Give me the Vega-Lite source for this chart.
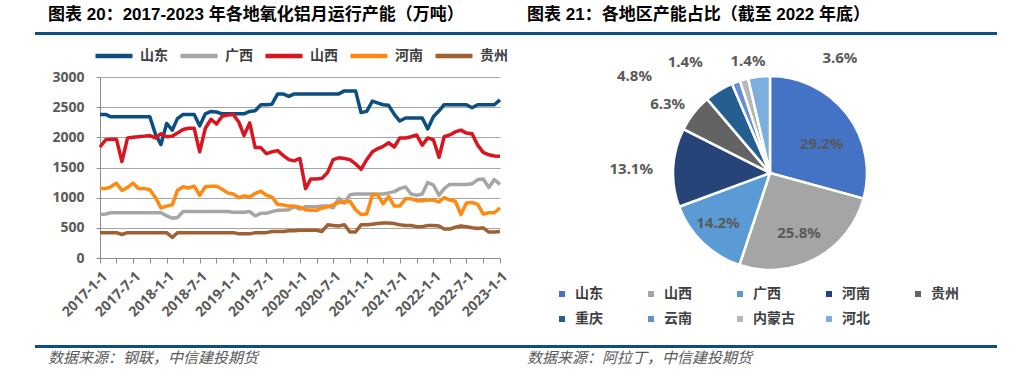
{
  "$schema": "https://vega.github.io/schema/vega-lite/v6.json",
  "background": "white",
  "padding": {"left": 35, "top": 6, "right": 0, "bottom": 0},
  "autosize": {"type": "pad"},
  "config": {
    "view": {"stroke": null},
    "title": {"font": "'Liberation Sans', 'Noto Sans CJK SC'"}
  },
  "columns": 2,
  "align": "each",
  "spacing": {"row": 0, "column": 0},
  "resolve": {"scale": {"color": "independent"}, "legend": {"color": "independent"}},
  "concat": [
    {
      "width": 485,
      "height": 3,
      "title": {"text": "图表 20：2017-2023 年各地氧化铝月运行产能（万吨）", "anchor": "start", "fontSize": 17, "fontWeight": "bold", "color": "#000000", "offset": 8, "dx": 13},
      "data": {"values": [{}]},
      "mark": {"type": "rect", "color": "#104E7F"},
      "encoding": {}
    },
    {
      "width": 477,
      "height": 3,
      "title": {"text": "图表 21：各地区产能占比（截至 2022 年底）", "anchor": "start", "fontSize": 17, "fontWeight": "bold", "color": "#000000", "offset": 8, "dx": 7},
      "data": {"values": [{}]},
      "mark": {"type": "rect", "color": "#104E7F"},
      "encoding": {}
    },
    {
      "width": 485,
      "height": 181,
      "data": {"values": [
        {"d":"2017/1/1","山东":2380,"广西":720,"山西":1840,"河南":1150,"贵州":420},
        {"d":"2017/2/1","山东":2380,"广西":730,"山西":1960,"河南":1150,"贵州":420},
        {"d":"2017/3/1","山东":2340,"广西":750,"山西":1970,"河南":1180,"贵州":420},
        {"d":"2017/4/1","山东":2340,"广西":750,"山西":1970,"河南":1240,"贵州":420},
        {"d":"2017/5/1","山东":2340,"广西":750,"山西":1600,"河南":1120,"贵州":390},
        {"d":"2017/6/1","山东":2340,"广西":750,"山西":1990,"河南":1170,"贵州":420},
        {"d":"2017/7/1","山东":2340,"广西":750,"山西":2000,"河南":1240,"贵州":420},
        {"d":"2017/8/1","山东":2340,"广西":750,"山西":2010,"河南":1150,"贵州":420},
        {"d":"2017/9/1","山东":2340,"广西":750,"山西":2020,"河南":1150,"贵州":420},
        {"d":"2017/10/1","山东":2340,"广西":750,"山西":2030,"河南":1130,"贵州":420},
        {"d":"2017/11/1","山东":2050,"广西":750,"山西":1990,"河南":1000,"贵州":420},
        {"d":"2017/12/1","山东":1880,"广西":750,"山西":2060,"河南":830,"贵州":420},
        {"d":"2018/1/1","山东":2230,"广西":700,"山西":2010,"河南":860,"贵州":420},
        {"d":"2018/2/1","山东":2120,"广西":660,"山西":2020,"河南":880,"贵州":340},
        {"d":"2018/3/1","山东":2310,"广西":670,"山西":2070,"河南":1120,"贵州":420},
        {"d":"2018/4/1","山东":2380,"广西":770,"山西":2130,"河南":1180,"贵州":420},
        {"d":"2018/5/1","山东":2380,"广西":770,"山西":2150,"河南":1160,"贵州":420},
        {"d":"2018/6/1","山东":2380,"广西":770,"山西":2150,"河南":1190,"贵州":420},
        {"d":"2018/7/1","山东":2190,"广西":770,"山西":1760,"河南":1040,"贵州":420},
        {"d":"2018/8/1","山东":2390,"广西":770,"山西":2150,"河南":1180,"贵州":420},
        {"d":"2018/9/1","山东":2430,"广西":770,"山西":2300,"河南":1190,"贵州":420},
        {"d":"2018/10/1","山东":2420,"广西":770,"山西":2220,"河南":1190,"贵州":420},
        {"d":"2018/11/1","山东":2390,"广西":770,"山西":2350,"河南":1140,"贵州":420},
        {"d":"2018/12/1","山东":2390,"广西":770,"山西":2370,"河南":1080,"贵州":420},
        {"d":"2019/1/1","山东":2390,"广西":760,"山西":2380,"河南":1060,"贵州":420},
        {"d":"2019/2/1","山东":2390,"广西":760,"山西":2250,"河南":1000,"贵州":400},
        {"d":"2019/3/1","山东":2390,"广西":760,"山西":2030,"河南":1030,"贵州":400},
        {"d":"2019/4/1","山东":2430,"广西":770,"山西":2240,"河南":1010,"贵州":400},
        {"d":"2019/5/1","山东":2440,"广西":700,"山西":1830,"河南":1070,"贵州":420},
        {"d":"2019/6/1","山东":2540,"广西":740,"山西":1830,"河南":1110,"贵州":420},
        {"d":"2019/7/1","山东":2540,"广西":740,"山西":1730,"河南":1040,"贵州":420},
        {"d":"2019/8/1","山东":2550,"广西":770,"山西":1760,"河南":1010,"贵州":440},
        {"d":"2019/9/1","山东":2720,"广西":790,"山西":1780,"河南":890,"贵州":440},
        {"d":"2019/10/1","山东":2720,"广西":790,"山西":1700,"河南":880,"贵州":440},
        {"d":"2019/11/1","山东":2680,"广西":800,"山西":1630,"河南":860,"贵州":450},
        {"d":"2019/12/1","山东":2720,"广西":850,"山西":1610,"河南":860,"贵州":450},
        {"d":"2020/1/1","山东":2720,"广西":810,"山西":1650,"河南":840,"贵州":460},
        {"d":"2020/2/1","山东":2720,"广西":850,"山西":1150,"河南":800,"贵州":460},
        {"d":"2020/3/1","山东":2720,"广西":850,"山西":1310,"河南":790,"贵州":460},
        {"d":"2020/4/1","山东":2720,"广西":850,"山西":1310,"河南":790,"贵州":460},
        {"d":"2020/5/1","山东":2720,"广西":860,"山西":1320,"河南":830,"贵州":440},
        {"d":"2020/6/1","山东":2720,"广西":860,"山西":1420,"河南":850,"贵州":550},
        {"d":"2020/7/1","山东":2720,"广西":830,"山西":1630,"河南":880,"贵州":540},
        {"d":"2020/8/1","山东":2720,"广西":990,"山西":1660,"河南":920,"贵州":530},
        {"d":"2020/9/1","山东":2770,"广西":910,"山西":1650,"河南":930,"贵州":550},
        {"d":"2020/10/1","山东":2770,"广西":1050,"山西":1630,"河南":940,"贵州":430},
        {"d":"2020/11/1","山东":2770,"广西":1060,"山西":1560,"河南":800,"贵州":430},
        {"d":"2020/12/1","山东":2410,"广西":1060,"山西":1470,"河南":720,"贵州":550},
        {"d":"2021/1/1","山东":2430,"广西":1060,"山西":1630,"河南":730,"贵州":550},
        {"d":"2021/2/1","山东":2600,"广西":1060,"山西":1760,"河南":1050,"贵州":560},
        {"d":"2021/3/1","山东":2570,"广西":1060,"山西":1810,"河南":1050,"贵州":570},
        {"d":"2021/4/1","山东":2540,"广西":1060,"山西":1850,"河南":900,"贵州":580},
        {"d":"2021/5/1","山东":2530,"广西":1080,"山西":1910,"河南":1020,"贵州":580},
        {"d":"2021/6/1","山东":2380,"广西":1100,"山西":1840,"河南":860,"贵州":570},
        {"d":"2021/7/1","山东":2270,"广西":1150,"山西":1990,"河南":860,"贵州":550},
        {"d":"2021/8/1","山东":2320,"广西":1180,"山西":1990,"河南":980,"贵州":540},
        {"d":"2021/9/1","山东":2320,"广西":1060,"山西":2010,"河南":980,"贵州":540},
        {"d":"2021/10/1","山东":2320,"广西":1040,"山西":2040,"河南":950,"贵州":520},
        {"d":"2021/11/1","山东":2320,"广西":1060,"山西":1870,"河南":950,"贵州":520},
        {"d":"2021/12/1","山东":2140,"广西":1250,"山西":1990,"河南":960,"贵州":540},
        {"d":"2022/1/1","山东":2340,"广西":1210,"山西":1960,"河南":960,"贵州":540},
        {"d":"2022/2/1","山东":2440,"广西":1040,"山西":1670,"河南":930,"贵州":530},
        {"d":"2022/3/1","山东":2540,"广西":1150,"山西":2010,"河南":1000,"贵州":480},
        {"d":"2022/4/1","山东":2540,"广西":1220,"山西":2040,"河南":960,"贵州":480},
        {"d":"2022/5/1","山东":2540,"广西":1220,"山西":2090,"河南":940,"贵州":510},
        {"d":"2022/6/1","山东":2540,"广西":1220,"山西":2120,"河南":720,"贵州":530},
        {"d":"2022/7/1","山东":2540,"广西":1220,"山西":2070,"河南":910,"贵州":520},
        {"d":"2022/8/1","山东":2490,"广西":1230,"山西":2060,"河南":920,"贵州":500},
        {"d":"2022/9/1","山东":2540,"广西":1300,"山西":1870,"河南":890,"贵州":490},
        {"d":"2022/10/1","山东":2540,"广西":1310,"山西":1750,"河南":730,"贵州":500},
        {"d":"2022/11/1","山东":2540,"广西":1170,"山西":1710,"河南":750,"贵州":430},
        {"d":"2022/12/1","山东":2540,"广西":1300,"山西":1690,"河南":750,"贵州":430},
        {"d":"2023/1/1","山东":2620,"广西":1220,"山西":1685,"河南":830,"贵州":440}
      ]},
      "transform": [{"fold": ["山东", "广西", "山西", "河南", "贵州"], "as": ["省份", "产能"]}],
      "mark": {"type": "line", "strokeWidth": 3.5, "strokeJoin": "round"},
      "encoding": {
        "x": {
          "field": "d", "type": "temporal",
          "scale": {"domain": [{"year": 2017, "month": 1, "date": 1}, {"year": 2023, "month": 1, "date": 1}], "nice": false, "range": [65, 465]},
          "axis": {
            "title": " ", "titleFontSize": 10, "titlePadding": 15,
            "tickCount": {"interval": "month", "step": 3},
            "labelExpr": "month(datum.value) % 6 === 0 ? timeFormat(datum.value, '%Y-%-m-%-d') : ''",
            "labelAngle": -45, "labelFont": "Noto Sans", "labelFontSize": 14, "labelFontWeight": "bold",
            "labelColor": "#595959", "labelPadding": 6, "labelOverlap": false, "labelFlush": false, "labelBound": false,
            "grid": false, "domainColor": "#8C8C8C", "tickColor": "#8C8C8C", "tickSize": 5
          }
        },
        "y": {
          "field": "产能", "type": "quantitative",
          "scale": {"domain": [0, 3000], "nice": false},
          "axis": {
            "title": null, "format": "d", "offset": -65,
            "values": [0, 500, 1000, 1500, 2000, 2500, 3000],
            "labelFont": "Noto Sans", "labelFontSize": 14, "labelFontWeight": "bold", "labelColor": "#595959",
            "labelPadding": 12, "tickSize": 4, "tickColor": "#8C8C8C", "domainColor": "#8C8C8C",
            "gridColor": "#A6A6A6"
          }
        },
        "color": {
          "field": "省份", "type": "nominal",
          "scale": {"domain": ["山东", "广西", "山西", "河南", "贵州"], "range": ["#0D4E80", "#A6A6A6", "#D9161F", "#FF8A12", "#9F6131"]},
          "legend": {
            "orient": "none", "legendX": 58, "legendY": -42, "direction": "horizontal", "title": null,
            "symbolType": "stroke", "symbolSize": 1369, "symbolStrokeWidth": 4.5,
            "labelFont": "Noto Sans CJK SC", "labelFontSize": 14, "labelFontWeight": "bold", "labelColor": "#404040",
            "labelOffset": 5, "columnPadding": 3, "padding": 0
          }
        }
      }
    },
    {
      "width": 500,
      "height": 192,
      "data": {"values": [
        {"地区": "山东", "占比": 0.292, "i": 1},
        {"地区": "山西", "占比": 0.258, "i": 2},
        {"地区": "广西", "占比": 0.142, "i": 3},
        {"地区": "河南", "占比": 0.131, "i": 4},
        {"地区": "贵州", "占比": 0.063, "i": 5},
        {"地区": "重庆", "占比": 0.048, "i": 6},
        {"地区": "云南", "占比": 0.014, "i": 7},
        {"地区": "内蒙古", "占比": 0.014, "i": 8},
        {"地区": "河北", "占比": 0.036, "i": 9}
      ]},
      "layer": [
        {
          "mark": {"type": "arc", "outerRadius": 97, "stroke": "white", "strokeWidth": 2.5},
          "encoding": {
            "theta": {"field": "占比", "type": "quantitative", "stack": true, "scale": {"domain": [0, 0.998]}},
            "order": {"field": "i", "type": "quantitative"},
            "color": {
              "field": "地区", "type": "nominal",
              "scale": {
                "domain": ["山东", "山西", "广西", "河南", "贵州", "重庆", "云南", "内蒙古", "河北"],
                "range": ["#4472C4", "#A5A5A5", "#5B9BD5", "#264478", "#636363", "#255E91", "#698ED0", "#B7B7B7", "#7CAFDD"]
              },
              "legend": {
                "orient": "none", "legendX": 33, "legendY": 208, "direction": "horizontal", "columns": 5, "gridAlign": "all",
                "title": null, "symbolType": "square", "symbolSize": 36, "symbolStrokeWidth": 0,
                "labelFont": "Noto Sans CJK SC", "labelFontSize": 14, "labelFontWeight": "bold", "labelColor": "#404040",
                "labelOffset": 6, "columnPadding": 27, "rowPadding": 11, "padding": 2
              }
            }
          }
        },
        {
          "transform": [{"stack": "占比", "groupby": [], "sort": [{"field": "i"}], "as": ["s0", "s1"]}, {"filter": "datum.i === 1"}],
          "mark": {"type": "text", "radius": 60, "thetaOffset": 0.9192, "dx": 4, "dy": 7, "font": "Noto Sans", "fontSize": 15, "fontWeight": "bold", "color": "#595959"},
          "encoding": {"theta": {"field": "s0", "type": "quantitative", "stack": null}, "text": {"field": "占比", "type": "quantitative", "format": ".1%"}}
        },
        {
          "transform": [{"stack": "占比", "groupby": [], "sort": [{"field": "i"}], "as": ["s0", "s1"]}, {"filter": "datum.i === 2"}],
          "mark": {"type": "text", "radius": 70, "thetaOffset": 0.8122, "dx": -4, "dy": -2, "font": "Noto Sans", "fontSize": 15, "fontWeight": "bold", "color": "#595959"},
          "encoding": {"theta": {"field": "s0", "type": "quantitative", "stack": null}, "text": {"field": "占比", "type": "quantitative", "format": ".1%"}}
        },
        {
          "transform": [{"stack": "占比", "groupby": [], "sort": [{"field": "i"}], "as": ["s0", "s1"]}, {"filter": "datum.i === 3"}],
          "mark": {"type": "text", "radius": 72, "thetaOffset": 0.447, "dx": -2, "dy": -2, "font": "Noto Sans", "fontSize": 15, "fontWeight": "bold", "color": "#595959"},
          "encoding": {"theta": {"field": "s0", "type": "quantitative", "stack": null}, "text": {"field": "占比", "type": "quantitative", "format": ".1%"}}
        },
        {
          "transform": [{"stack": "占比", "groupby": [], "sort": [{"field": "i"}], "as": ["s0", "s1"]}, {"filter": "datum.i === 4"}],
          "mark": {"type": "text", "radius": 139, "thetaOffset": 0.4124, "dy": 4, "font": "Noto Sans", "fontSize": 15, "fontWeight": "bold", "color": "#595959"},
          "encoding": {"theta": {"field": "s0", "type": "quantitative", "stack": null}, "text": {"field": "占比", "type": "quantitative", "format": ".1%"}}
        },
        {
          "transform": [{"stack": "占比", "groupby": [], "sort": [{"field": "i"}], "as": ["s0", "s1"]}, {"filter": "datum.i === 5"}],
          "mark": {"type": "text", "radius": 124, "thetaOffset": 0.1983, "dx": -5, "dy": 8, "font": "Noto Sans", "fontSize": 15, "fontWeight": "bold", "color": "#595959"},
          "encoding": {"theta": {"field": "s0", "type": "quantitative", "stack": null}, "text": {"field": "占比", "type": "quantitative", "format": ".1%"}}
        },
        {
          "transform": [{"stack": "占比", "groupby": [], "sort": [{"field": "i"}], "as": ["s0", "s1"]}, {"filter": "datum.i === 6"}],
          "mark": {"type": "text", "radius": 115, "thetaOffset": 0.1511, "dx": -75, "dy": 1, "font": "Noto Sans", "fontSize": 15, "fontWeight": "bold", "color": "#595959"},
          "encoding": {"theta": {"field": "s0", "type": "quantitative", "stack": null}, "text": {"field": "占比", "type": "quantitative", "format": ".1%"}}
        },
        {
          "transform": [{"stack": "占比", "groupby": [], "sort": [{"field": "i"}], "as": ["s0", "s1"]}, {"filter": "datum.i === 7"}],
          "mark": {"type": "text", "radius": 119, "thetaOffset": 0.0441, "dx": -43, "font": "Noto Sans", "fontSize": 15, "fontWeight": "bold", "color": "#595959"},
          "encoding": {"theta": {"field": "s0", "type": "quantitative", "stack": null}, "text": {"field": "占比", "type": "quantitative", "format": ".1%"}}
        },
        {
          "transform": [{"stack": "占比", "groupby": [], "sort": [{"field": "i"}], "as": ["s0", "s1"]}, {"filter": "datum.i === 8"}],
          "mark": {"type": "text", "radius": 116, "thetaOffset": 0.0441, "dx": 9, "font": "Noto Sans", "fontSize": 15, "fontWeight": "bold", "color": "#595959"},
          "encoding": {"theta": {"field": "s0", "type": "quantitative", "stack": null}, "text": {"field": "占比", "type": "quantitative", "format": ".1%"}}
        },
        {
          "transform": [{"stack": "占比", "groupby": [], "sort": [{"field": "i"}], "as": ["s0", "s1"]}, {"filter": "datum.i === 9"}],
          "mark": {"type": "text", "radius": 116, "thetaOffset": 0.1133, "dx": 83, "font": "Noto Sans", "fontSize": 15, "fontWeight": "bold", "color": "#595959"},
          "encoding": {"theta": {"field": "s0", "type": "quantitative", "stack": null}, "text": {"field": "占比", "type": "quantitative", "format": ".1%"}}
        }
      ]
    },
    {
      "width": 485,
      "height": 3,
      "title": {"text": "数据来源：钢联，中信建投期货", "orient": "bottom", "anchor": "start", "font": "Noto Sans CJK SC", "fontSize": 15, "fontStyle": "italic", "fontWeight": "normal", "color": "#595959", "offset": 3, "dx": 13},
      "data": {"values": [{}]},
      "mark": {"type": "rect", "color": "#104E7F"},
      "encoding": {}
    },
    {
      "width": 477,
      "height": 3,
      "title": {"text": "数据来源：阿拉丁，中信建投期货", "orient": "bottom", "anchor": "start", "font": "Noto Sans CJK SC", "fontSize": 15, "fontStyle": "italic", "fontWeight": "normal", "color": "#595959", "offset": 3, "dx": 7},
      "data": {"values": [{}]},
      "mark": {"type": "rect", "color": "#104E7F"},
      "encoding": {}
    }
  ]
}
